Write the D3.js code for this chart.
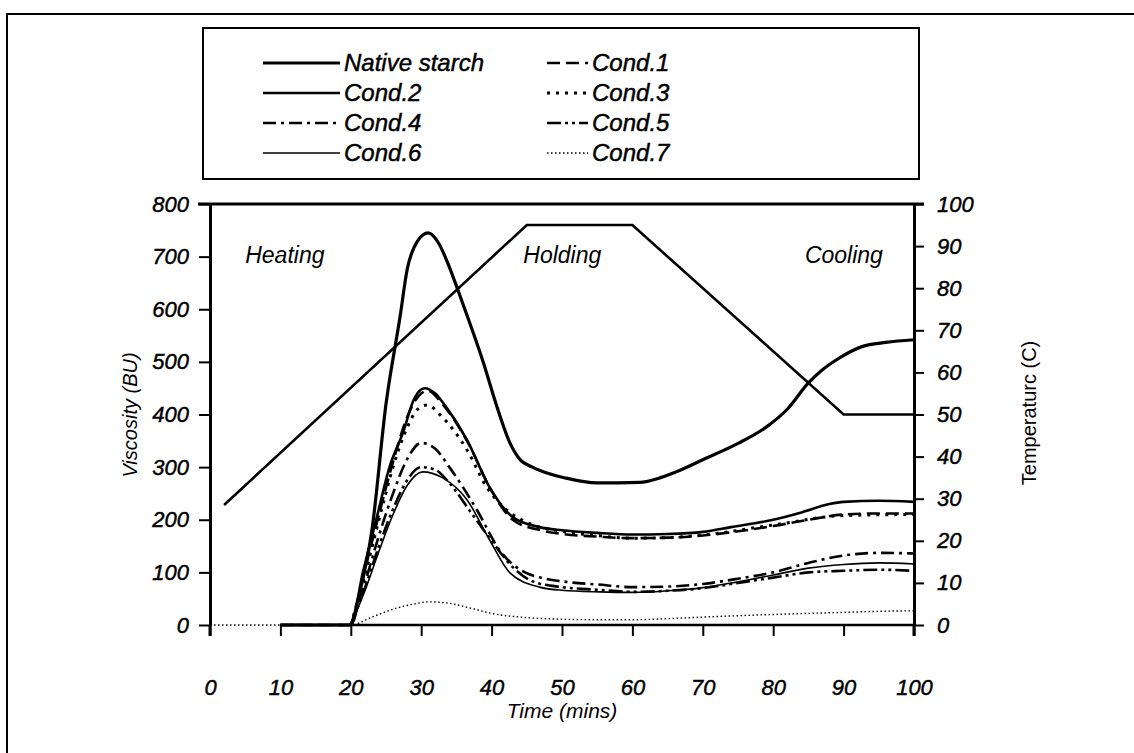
<!DOCTYPE html>
<html>
<head>
<meta charset="utf-8">
<script src="https://cdn.jsdelivr.net/npm/d3@7"></script>
<style>
  body { margin: 0; background: #fff; }
  svg text { font-family: "Liberation Sans", Arial, sans-serif; fill: #000; }
  svg text.heavy { stroke: #000; stroke-width: 0.45px; }
</style>
</head>
<body>
<svg id="chart" width="1134" height="753"></svg>
<script>
"use strict";

// time (mins) / viscosity (BU)
var nativeT = [10, 20, 21, 23, 25, 27, 28, 29.5, 31, 32.5, 34, 35.2, 37, 38.7, 40.9, 42.6, 44, 45.8, 50.6, 55, 61, 64, 66.2, 70, 75, 79, 82, 85, 87, 89, 92.6, 96, 100];
var nativeV = [0, 0, 48, 180, 420, 586, 675, 730, 745, 725, 680, 637, 570, 504, 409, 346, 315, 300, 279, 270, 271, 280, 291, 314, 345, 376, 410, 460, 485, 504, 529, 537, 542];

var cond1T = [10, 20, 22, 24, 26, 28, 30, 31, 33, 36.5, 40, 43, 47, 50, 55, 60, 65, 70, 75, 80, 85, 90, 95, 100];
var cond1V = [0, 0, 105, 210, 310, 395, 440, 445, 420, 350, 255, 200, 180, 173, 168, 165, 166, 170, 178, 188, 200, 210, 212, 212];

var cond2T = [10, 20, 21.7, 23.7, 25.5, 27.4, 29, 30.5, 32, 33.5, 36.5, 39.7, 43, 46.8, 50, 55, 60, 65, 70, 74, 80, 84, 88, 90, 95, 100];
var cond2V = [0, 0, 99, 205, 300, 365, 430, 450, 440, 415, 352, 262, 205, 186, 180, 175, 172, 173, 177, 186, 200, 214, 230, 234, 236, 234];

var cond3T = [20, 22, 24, 26, 28, 29.5, 30.8, 33, 36.5, 39.3, 42.1, 45, 50, 55, 60, 65, 70, 80, 90, 100];
var cond3V = [0, 95, 200, 300, 375, 410, 418, 395, 333, 262, 219, 195, 178, 170, 165, 166, 171, 190, 208, 210];

var cond4T = [20, 22, 24, 26, 28, 30, 32, 34, 37.9, 41.1, 44.9, 50.6, 55, 60, 65, 70, 75, 80, 85, 90, 95, 100];
var cond4V = [0, 80, 170, 250, 315, 346, 335, 300, 219, 143, 99, 82, 77, 72, 73, 78, 88, 100, 118, 132, 137, 136];

var cond5T = [20, 22, 24, 26, 28, 30, 32, 34, 37, 40, 43, 46, 50, 55, 60, 65, 70, 75, 80, 85, 90, 95, 100];
var cond5V = [0, 70, 150, 220, 275, 300, 295, 270, 215, 160, 110, 82, 72, 67, 63, 65, 70, 80, 90, 100, 103, 105, 103];

var cond6T = [20, 22, 24, 26, 28, 30.2, 33, 36.5, 39.7, 42.6, 46.8, 50, 55.3, 60, 65, 69.5, 75, 80, 85, 90, 95, 100];
var cond6V = [0, 65, 140, 210, 265, 291, 280, 238, 162, 99, 72, 66, 63, 62, 65, 70, 82, 95, 108, 115, 118, 116];

var cond7T = [0, 20, 23, 26, 29, 31, 33.6, 37, 40, 45, 50, 55, 60, 65, 70, 80, 90, 95, 100];
var cond7V = [0, 0, 15, 30, 40, 44, 42, 32, 22, 14, 11, 10, 10, 12, 15, 20, 24, 26, 27];

// temperature programme (C)
var tempT = [2, 45, 60, 90, 100];
var tempV = [28.5, 95, 95, 50, 50];

var seriesNames = ["Native starch", "Cond.1", "Cond.2", "Cond.3", "Cond.4", "Cond.5", "Cond.6", "Cond.7"];
var seriesTimes = [nativeT, cond1T, cond2T, cond3T, cond4T, cond5T, cond6T, cond7T];
var seriesVals = [nativeV, cond1V, cond2V, cond3V, cond4V, cond5V, cond6V, cond7V];
var seriesWidth = [3.2, 2.6, 2.6, 3, 2.6, 2.6, 1.6, 1.4];
var seriesDash = [null, "13,6", null, "3,6", "13,5,3,5", "14,4,3,4,3,4", null, "1.5,2.5"];

var xTicks = [0, 10, 20, 30, 40, 50, 60, 70, 80, 90, 100];
var viscTicks = [0, 100, 200, 300, 400, 500, 600, 700, 800];
var tempTicks = [0, 10, 20, 30, 40, 50, 60, 70, 80, 90, 100];
var phases = [["Heating", 5], ["Holding", 44.5], ["Cooling", 84.5]];

var svg = d3.select("#chart");

var x = d3.scaleLinear().domain([0, 100]).range([210, 914]);
var yV = d3.scaleLinear().domain([0, 800]).range([625, 204]);
var yT = d3.scaleLinear().domain([0, 100]).range([625, 204]);

// outer page frame
svg.append("path").attr("d", "M7,753 L7,14 L1134,14")
	.attr("fill", "none").attr("stroke", "#000").attr("stroke-width", 2);

// legend box
svg.append("rect").attr("x", 203).attr("y", 28).attr("width", 716).attr("height", 151)
	.attr("fill", "none").attr("stroke", "#000").attr("stroke-width", 2);

var legend = svg.append("g");
seriesNames.forEach(function(name, i){
	var col = i % 2, row = Math.floor(i / 2);
	var ly = 63 + row * 30;
	var x0 = col ? 547 : 263, x1 = col ? 588 : 340;
	legend.append("line")
		.attr("x1", x0).attr("x2", x1).attr("y1", ly).attr("y2", ly)
		.attr("stroke", "#000").attr("stroke-width", seriesWidth[i])
		.attr("stroke-dasharray", seriesDash[i]);
	legend.append("text").attr("class", "heavy")
		.attr("x", x1 + 4).attr("y", ly + 8)
		.attr("font-size", 24).attr("font-style", "italic")
		.text(name);
});

// axes
var gl = svg.append("g").attr("transform", "translate(" + x.range()[0] + ",0)")
	.call(d3.axisLeft(yV).tickValues(viscTicks).tickSize(11).tickSizeOuter(0).tickPadding(10));
var gr = svg.append("g").attr("transform", "translate(" + x.range()[1] + ",0)")
	.call(d3.axisRight(yT).tickValues(tempTicks).tickSize(10).tickSizeOuter(0).tickPadding(13));
var gb = svg.append("g").attr("transform", "translate(0," + yV(0) + ")")
	.call(d3.axisBottom(x).tickValues(xTicks).tickSize(11).tickSizeOuter(0).tickPadding(43));
gb.select(".domain").remove();

[gl, gr, gb].forEach(function(g){
	g.selectAll(".domain").attr("stroke-width", 3).attr("stroke", "#000");
	g.selectAll(".tick line").attr("stroke-width", 2).attr("stroke", "#000");
	g.selectAll(".tick text").attr("class", "heavy")
		.attr("font-size", 22).attr("font-style", "italic")
		.attr("font-family", "Liberation Sans, Arial, sans-serif");
});

// axis lines run a little past the zero line
svg.append("line").attr("x1", x(0)).attr("x2", x(0)).attr("y1", yV(0)).attr("y2", yV(0) + 11)
	.attr("stroke", "#000").attr("stroke-width", 3);
svg.append("line").attr("x1", x(100)).attr("x2", x(100)).attr("y1", yV(0)).attr("y2", yV(0) + 11)
	.attr("stroke", "#000").attr("stroke-width", 3);

// top border of the plot
svg.append("line").attr("x1", x(0) - 12).attr("x2", x(100) + 10).attr("y1", yV(800)).attr("y2", yV(800))
	.attr("stroke", "#000").attr("stroke-width", 3);

// zero baseline
svg.append("line").attr("x1", x(10)).attr("x2", x(100)).attr("y1", yV(0)).attr("y2", yV(0))
	.attr("stroke", "#000").attr("stroke-width", 2.5);

// phase labels
phases.forEach(function(p){
	svg.append("text").attr("x", x(p[1])).attr("y", 263)
		.attr("font-size", 23).attr("font-style", "italic").text(p[0]);
});

// axis titles
svg.append("text").attr("transform", "translate(137,415) rotate(-90)")
	.attr("text-anchor", "middle").attr("font-size", 20).attr("font-style", "italic")
	.text("Viscosity (BU)");
svg.append("text").attr("transform", "translate(1036,413) rotate(-90)")
	.attr("text-anchor", "middle").attr("font-size", 20)
	.text("Temperaturc (C)");
svg.append("text").attr("x", 562).attr("y", 718)
	.attr("text-anchor", "middle").attr("font-size", 21).attr("font-style", "italic")
	.text("Time (mins)");

// temperature line
svg.append("path")
	.datum(d3.zip(tempT, tempV))
	.attr("fill", "none").attr("stroke", "#000").attr("stroke-width", 2.6)
	.attr("d", d3.line().x(function(d){ return x(d[0]); }).y(function(d){ return yT(d[1]); }));

// viscosity curves
var line = d3.line()
	.x(function(d){ return x(d[0]); })
	.y(function(d){ return yV(d[1]); })
	.curve(d3.curveMonotoneX);

for (var i = seriesNames.length - 1; i >= 0; i--) {
	svg.append("path")
		.datum(d3.zip(seriesTimes[i], seriesVals[i]))
		.attr("fill", "none").attr("stroke", "#000")
		.attr("stroke-width", seriesWidth[i])
		.attr("stroke-dasharray", seriesDash[i])
		.attr("stroke-linejoin", "round")
		.attr("d", line);
}
</script>
</body>
</html>
